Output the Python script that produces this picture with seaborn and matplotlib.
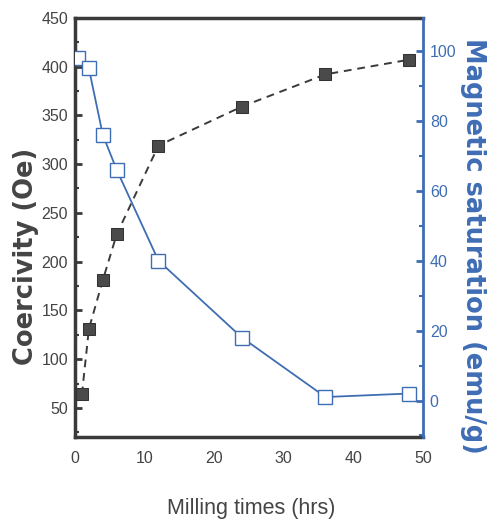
import matplotlib
matplotlib.use("Agg")
import matplotlib.pyplot as plt
from matplotlib.ticker import MultipleLocator
import seaborn as sns
import pandas as pd

# values
hours_hc = [1, 2, 4, 6, 12, 24, 36, 48]
coercivity = [64, 131, 181, 228, 319, 359, 392, 407]

hours_ms = [0.5, 2, 4, 6, 12, 24, 36, 48]
saturation = [98, 95, 76, 66, 40, 18, 1, 2]

x_ticks = [0, 10, 20, 30, 40, 50]
hc_ticks = [50, 100, 150, 200, 250, 300, 350, 400, 450]
ms_ticks = [0, 20, 40, 60, 80, 100]

GRAY = "#3a3a3a"
TEXT = "#444444"
BLUE = "#3f6db4"
NARROW = ["Liberation Sans", "DejaVu Sans"]

sns.set_theme(style="white")
plt.rcParams["font.family"] = ["DejaVu Sans"]

df_hc = pd.DataFrame({"t": hours_hc, "hc": coercivity})
df_ms = pd.DataFrame({"t": hours_ms, "ms": saturation})

fig = plt.figure(figsize=(4.9, 5.23), dpi=100)
ax = fig.add_axes([0.153, 0.164, 0.710, 0.802])
ax2 = ax.twinx()

sns.lineplot(data=df_hc, x="t", y="hc", ax=ax, color=GRAY, lw=1.4,
             linestyle=(0, (4, 3)), marker="s", markersize=9,
             markerfacecolor="#4a4a4a", markeredgecolor="#333333", zorder=3)
sns.lineplot(data=df_ms, x="t", y="ms", ax=ax2, color=BLUE, lw=1.3,
             marker="s", markersize=10, markerfacecolor="white",
             markeredgecolor=BLUE, markeredgewidth=1.0, zorder=3)

ax.set_xlim(0, 50)
ax.set_ylim(20, 450)
ax2.set_ylim(-10.5, 109.5)

ax.set_xticks(x_ticks)
ax.set_yticks(hc_ticks)
ax2.set_yticks(ms_ticks)
ax.xaxis.set_minor_locator(MultipleLocator(5))
ax.yaxis.set_minor_locator(MultipleLocator(25))
ax2.yaxis.set_minor_locator(MultipleLocator(10))

for s in ["left", "top", "bottom"]:
    ax.spines[s].set_color(GRAY)
    ax.spines[s].set_linewidth(2.5)
ax.spines["right"].set_visible(False)
for s in ["left", "top", "bottom"]:
    ax2.spines[s].set_visible(False)
ax2.spines["right"].set_color(BLUE)
ax2.spines["right"].set_linewidth(2.0)

ax.tick_params(axis="both", which="major", direction="in", length=5, width=2,
               color=GRAY, labelcolor=TEXT, pad=5)
ax.tick_params(axis="both", which="minor", direction="in", length=3, width=1.5,
               color=GRAY)
ax.tick_params(axis="x", pad=10)
ax2.tick_params(axis="y", which="major", direction="in", length=5, width=2,
                color=BLUE, labelcolor=BLUE, pad=5)
ax2.tick_params(axis="y", which="minor", direction="in", length=3, width=1.5,
                color=BLUE)

for lab in ax.get_xticklabels() + ax.get_yticklabels() + ax2.get_yticklabels():
    lab.set_family(NARROW)
    lab.set_fontsize(11.5)

ax.set_xlabel("Milling times (hrs)", family=NARROW, fontsize=15.5,
              color=TEXT, ha="center", va="center")
ax.xaxis.set_label_coords(0.506, -0.169)
ax.set_ylabel("Coercivity (Oe)", fontsize=18.5, fontweight="bold",
              color="#444444", ha="center", va="center")
ax.yaxis.set_label_coords(-0.141, 0.43)
ax2.set_ylabel("Magnetic saturation (emu/g)", fontsize=18.5, fontweight="bold",
               color=BLUE, rotation=-90, ha="center", va="center")
ax2.yaxis.set_label_coords(1.144, 0.457)

fig.savefig("out.png", dpi=100, facecolor="white")
